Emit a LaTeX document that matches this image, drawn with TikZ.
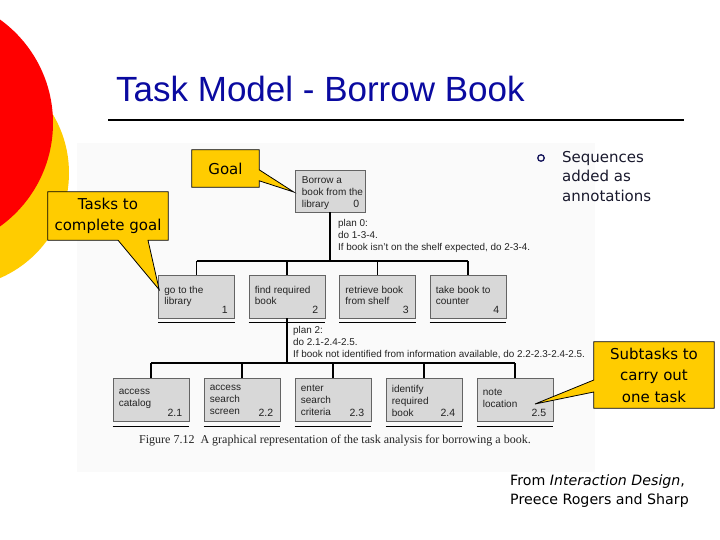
\documentclass[tikz,border=0pt]{standalone}
\usepackage{fontspec}
\setmainfont{Liberation Sans}
\newfontfamily\tahomafont{DejaVu Sans}
\newfontfamily\capserif{Liberation Serif}
\definecolor{callY}{RGB}{255,204,0}
\definecolor{titleB}{RGB}{10,10,160}
\definecolor{boxG}{RGB}{216,216,216}
\definecolor{boxE}{RGB}{100,100,100}
\definecolor{scanBG}{RGB}{250,250,250}
\definecolor{inkG}{RGB}{35,35,35}
\definecolor{bulletB}{RGB}{20,20,90}
\definecolor{noteC}{RGB}{25,25,45}
\pgfdeclarelayer{ctext}
\pgfsetlayers{main,ctext}
\newcommand\taskbox[5]{%
  \node[tbox] (#1) at #2 {};
  \node[ttext, anchor=north west] (#1-t) at ([xshift=6pt,yshift=-#3pt]#1.north west) {#4};
  \node[tnum, anchor=base east] (#1-n) at ([xshift=-7pt,yshift=5pt]#1.south east) {#5};
}
\newcommand\taskrule[1]{\draw[ul] ([yshift=-4.5pt]#1.south west) -- ([yshift=-4.5pt]#1.south east);}
\begin{document}
\begin{tikzpicture}[x=1pt,y=-1pt,
  tbox/.style={draw=boxE, line width=0.6pt, fill=boxG, minimum width=76pt, minimum height=43pt, inner sep=0pt},
  ttext/.style={inner sep=0pt, align=left, text=inkG, font=\fontsize{10}{11.8}\selectfont},
  tnum/.style={inner sep=0pt, text=inkG, font=\fontsize{10.5}{12}\selectfont},
  ul/.style={line width=1.2pt, black},
  conn/.style={line width=1.3pt, black},
  plantext/.style={inner sep=0pt, align=left, text=inkG, font=\fontsize{9.9}{12}\selectfont},
  calltext/.style={inner sep=0pt, align=center, text=black, font=\tahomafont\fontsize{15}{21.5}\selectfont},
  callshape/.style={fill=callY, draw=black, line width=0.8pt, line join=miter}
]
\useasboundingbox (0,0) rectangle (720,540);
\clip (0,0) rectangle (720,540);
\fill[white] (0,0) rectangle (720,540);
% decorative circles
\fill[callY] (-45.5,173) circle (114.5pt);
\fill[red] (-74.5,123) circle (127.5pt);
% title
\node[anchor=base west, inner sep=0pt, text=titleB, font=\fontsize{35}{40}\selectfont] (title) at (116,102) {Task Model - Borrow Book};
\draw[line width=2pt] (108,120) -- (684,120);
% scanned figure background
\fill[scanBG] (77,143) rectangle (595,472);
% tree
\node[tbox, minimum width=70pt, minimum height=42pt] (root) at (330,191) {};
\node[ttext, anchor=north west] (root-t) at ([xshift=7pt,yshift=-7pt]root.north west) {Borrow a\\book from the\\library};
\node[tnum, anchor=base east] (root-n) at ([xshift=-6pt,yshift=5pt]root.south east) {0};

\taskbox{n1}{(196.5,296.5)}{11}{go to the\\library}{1}
\taskbox{n2}{(287,296.5)}{11}{find required\\book}{2}
\taskbox{n3}{(377.5,296.5)}{11}{retrieve book\\from shelf}{3}
\taskbox{n4}{(468,296.5)}{11}{take book to\\counter}{4}
\foreach \n in {n1,n2,n3,n4}{\taskrule{\n}}

\coordinate (bus1) at (0,261);
\draw[conn] (root.south) -- (root.south |- bus1);
\draw[conn] (n1.north |- bus1) -- (n4.north |- bus1);
\foreach \n in {n1,n2,n3,n4}{\draw[conn] (\n.north |- bus1) -- (\n.north);}

\node[plantext, anchor=north west] (plan0) at (338,219) {plan 0:\\do 1-3-4.\\If book isn't on the shelf expected, do 2-3-4.};

\taskbox{n21}{(151,400)}{11}{access\\catalog}{2.1}
\taskbox{n22}{(242,400)}{7}{access\\search\\screen}{2.2}
\taskbox{n23}{(333,400)}{7}{enter\\search\\criteria}{2.3}
\taskbox{n24}{(424,400)}{7}{identify\\required\\book}{2.4}
\taskbox{n25}{(515,400)}{11}{note\\location}{2.5}
\foreach \n in {n21,n22,n23,n24,n25}{\taskrule{\n}}

\coordinate (bus2) at (0,363);
\draw[conn] (n2.south) -- (n2.south |- bus2);
\draw[conn] (n21.north |- bus2) -- (n25.north |- bus2);
\foreach \n in {n21,n22,n23,n24,n25}{\draw[conn] (\n.north |- bus2) -- (\n.north);}

\node[plantext, anchor=north west] (plan2) at (293,326) {plan 2:\\do 2.1-2.4-2.5.\\If book not identified from information available, do 2.2-2.3-2.4-2.5.};

\node[anchor=base west, inner sep=0pt, text=inkG, font=\capserif\fontsize{12}{14}\selectfont] (caption) at (139,443.5) {Figure 7.12\ \ A graphical representation of the task analysis for borrowing a book.};

% bullet text
\node[circle, draw=bulletB, line width=1.3pt, minimum size=6.5pt, inner sep=0pt] (bul) at (541,158) {};
\node[anchor=north west, inner sep=0pt, align=left, text=noteC, font=\tahomafont\fontsize{15}{19.5}\selectfont] (seq) at (562,151) {Sequences\\added as\\annotations};

% source
\node[anchor=north west, inner sep=0pt, align=left, text=black, font=\tahomafont\fontsize{14.2}{19}\selectfont] (src) at (510,475) {From \textit{Interaction Design},\\Preece Rogers and Sharp};

% callouts
\begin{pgfonlayer}{ctext}
\node[calltext, minimum width=67pt, minimum height=37pt] (goal) at (225.5,168.5) {Goal};
\node[calltext, minimum width=120pt, minimum height=48pt] (tasks) at (108,216) {Tasks to\\complete goal};
\node[calltext, minimum width=120pt, minimum height=66pt] (subt) at (654,375) {Subtasks to\\carry out\\one task};
\end{pgfonlayer}
\coordinate (goaltip) at ([xshift=-1pt,yshift=-1pt]root.west);
\coordinate (taskstip) at ([xshift=1pt,yshift=-15pt]n1.north west);
\coordinate (subttip) at ([xshift=20pt,yshift=-4pt]n25.center);
\draw[callshape] (goal.north west) -- (goal.north east) -- ([yshift=-20pt]goal.north east) -- (goaltip) -- ([yshift=-31pt]goal.north east) -- (goal.south east) -- (goal.south west) -- cycle;
\draw[callshape] (tasks.north west) -- (tasks.north east) -- (tasks.south east) -- ([xshift=40pt]tasks.south) -- (taskstip) -- ([xshift=10pt]tasks.south) -- (tasks.south west) -- cycle;
\draw[callshape] (subt.north west) -- (subt.north east) -- (subt.south east) -- (subt.south west) -- ([yshift=-17pt]subt.west) -- (subttip) -- ([yshift=-5pt]subt.west) -- cycle;
\end{tikzpicture}
\end{document}
